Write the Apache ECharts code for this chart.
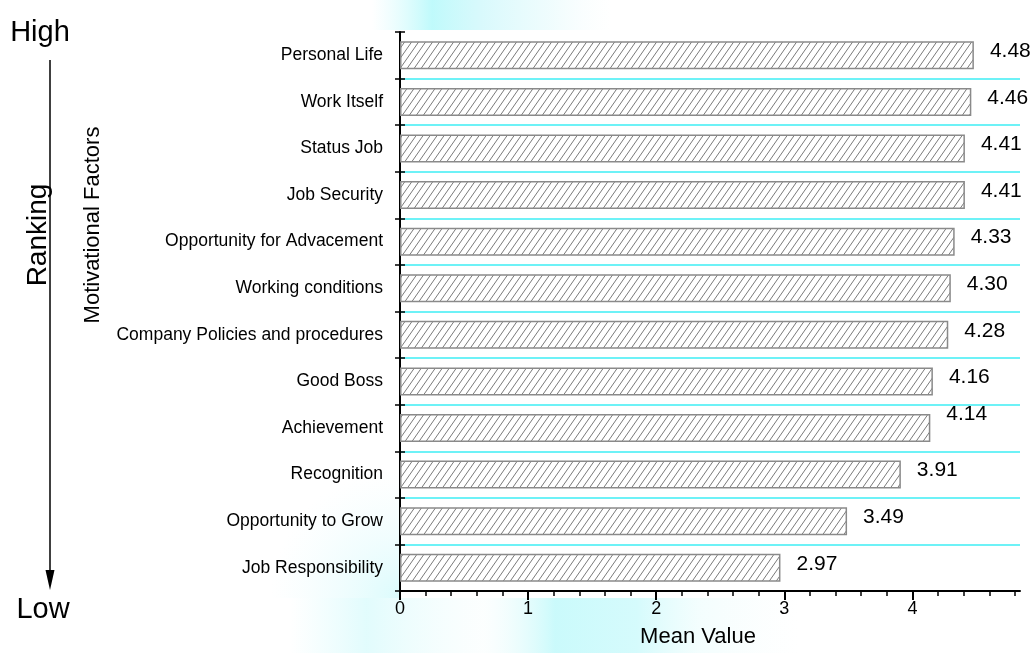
<!DOCTYPE html>
<html>
<head>
<meta charset="utf-8">
<script src="https://cdn.jsdelivr.net/npm/echarts@6/dist/echarts.min.js"></script>
<style>
html,body{margin:0;padding:0;background:#fff;}
#chart{width:1032px;height:653px;}
</style>
</head>
<body>
<div id="chart"></div>
<script>
const categories = ["Personal Life","Work Itself","Status Job","Job Security","Opportunity for Advacement","Working conditions","Company Policies and procedures","Good Boss","Achievement","Recognition","Opportunity to Grow","Job Responsibility"];
const values = [4.48,4.46,4.41,4.41,4.33,4.30,4.28,4.16,4.14,3.91,3.49,2.97];
const majorTicks = [0,1,2,3,4];
const minorTicks = [0.2,0.4,0.6,0.8,1.2,1.4,1.6,1.8,2.2,2.4,2.6,2.8,3.2,3.4,3.6,3.8,4.2,4.4,4.6,4.8];

const FONT = "'Liberation Sans', Arial, sans-serif";

// hatch pattern
const pc = document.createElement('canvas');
pc.width = 7; pc.height = 10;
const g = pc.getContext('2d');
g.fillStyle = '#ffffff'; g.fillRect(0,0,7,10);
g.strokeStyle = '#7a7a7a'; g.lineWidth = 1;
g.beginPath();
g.moveTo(0,10); g.lineTo(7,0);
g.moveTo(-7,10); g.lineTo(0,0);
g.moveTo(7,10); g.lineTo(14,0);
g.stroke();

const chart = echarts.init(document.getElementById('chart'), null, {renderer:'canvas'});

function lg(x0,y0,x1,y1,stops){ return {type:'linear',x:x0,y:y0,x2:x1,y2:y1,colorStops:stops}; }

const option = {
  backgroundColor:'#ffffff',
  animation:false,
  textStyle:{fontFamily:FONT},
  grid:{left:400, right:12, top:32, bottom:57, containLabel:false},
  xAxis:[{
    type:'value', min:0, max:4.84, position:'bottom',
    name:'Mean Value', nameLocation:'middle', nameGap:35,
    nameTextStyle:{fontSize:22, color:'#000', fontFamily:FONT, padding:[0,24,0,0]},
    axisLine:{show:true, lineStyle:{color:'#000', width:2}},
    axisTick:{show:true, customValues:majorTicks, length:9, lineStyle:{color:'#000', width:2}},
    axisLabel:{customValues:majorTicks, fontSize:18, color:'#000', margin:9, fontFamily:FONT},
    splitLine:{show:false}
  },{
    type:'value', min:0, max:4.84, position:'bottom',
    axisLine:{show:false},
    axisTick:{show:true, customValues:minorTicks, length:5, lineStyle:{color:'#000', width:1.5}},
    axisLabel:{show:false},
    splitLine:{show:false}
  }],
  yAxis:[{
    type:'category', data:categories, inverse:true, position:'left',
    axisLine:{show:true, lineStyle:{color:'#000', width:2}},
    axisTick:{show:true, length:5, lineStyle:{color:'#000', width:1.5}},
    axisLabel:{fontSize:17.5, color:'#000', margin:17, fontFamily:FONT},
    splitLine:{show:true, showMinLine:false, lineStyle:{color:'#3ceef4', width:1.5}}
  },{
    type:'category', data:categories, inverse:true, position:'left',
    axisLine:{show:false},
    axisTick:{show:true, inside:true, length:5, lineStyle:{color:'#000', width:1.5}},
    axisLabel:{show:false},
    splitLine:{show:false}
  }],
  series:[{
    type:'bar', xAxisIndex:0, yAxisIndex:0, barWidth:28,
    data: values.map((v,i)=>({value:v, label: i===8 ? {offset:[0,-14]} : undefined})),
    itemStyle:{color:{image:pc, repeat:'repeat'}, borderColor:'#8a8a8a', borderWidth:1.5},
    label:{show:true, position:'right', distance:16, offset:[0,-4], fontSize:21, color:'#000', fontFamily:FONT,
      formatter:p=>p.value.toFixed(2)},
    silent:true
  }],
  graphic:[
    {type:'rect', z:-10, shape:{x:372,y:0,width:240,height:30}, style:{fill:lg(0,0,1,0,[
      {offset:0,color:'rgba(200,250,252,0)'},{offset:0.25,color:'rgba(170,248,250,0.75)'},{offset:0.45,color:'rgba(190,245,250,0.6)'},{offset:0.75,color:'rgba(225,250,252,0.5)'},{offset:1,color:'rgba(240,252,252,0)'}])}},
    {type:'rect', z:-10, shape:{x:290,y:598,width:510,height:55}, style:{fill:lg(0,0,1,0,[
      {offset:0,color:'rgba(200,250,252,0)'},{offset:0.15,color:'rgba(190,248,250,0.45)'},{offset:0.38,color:'rgba(240,252,252,0.2)'},{offset:0.52,color:'rgba(180,248,250,0.7)'},{offset:0.68,color:'rgba(185,248,250,0.6)'},{offset:0.8,color:'rgba(225,252,252,0.4)'},{offset:1,color:'rgba(240,252,252,0)'}])}},
    {type:'rect', z:-10, shape:{x:270,y:280,width:129,height:318}, style:{fill:{type:'radial',x:1,y:1,r:1,colorStops:[
      {offset:0,color:'rgba(190,248,250,0.55)'},{offset:0.6,color:'rgba(215,250,252,0.25)'},{offset:1,color:'rgba(230,252,252,0)'}]}}},
    {type:'text', x:40, y:33, style:{text:'High', fontSize:29, fontFamily:FONT, fill:'#000', align:'center', verticalAlign:'middle'}},
    {type:'text', x:43, y:610, style:{text:'Low', fontSize:29, fontFamily:FONT, fill:'#000', align:'center', verticalAlign:'middle'}},
    {type:'text', x:38, y:235, rotation:Math.PI/2, style:{text:'Ranking', fontSize:28, fontFamily:FONT, fill:'#000', align:'center', verticalAlign:'middle'}},
    {type:'text', x:93, y:225, rotation:Math.PI/2, style:{text:'Motivational Factors', fontSize:22, fontFamily:FONT, fill:'#000', align:'center', verticalAlign:'middle'}},
    {type:'line', shape:{x1:50,y1:60,x2:50,y2:576}, style:{stroke:'#000', lineWidth:1.5}},
    {type:'polygon', shape:{points:[[45.5,570],[54.5,570],[50,590]]}, style:{fill:'#000'}}
  ]
};
chart.setOption(option);
</script>
</body>
</html>
